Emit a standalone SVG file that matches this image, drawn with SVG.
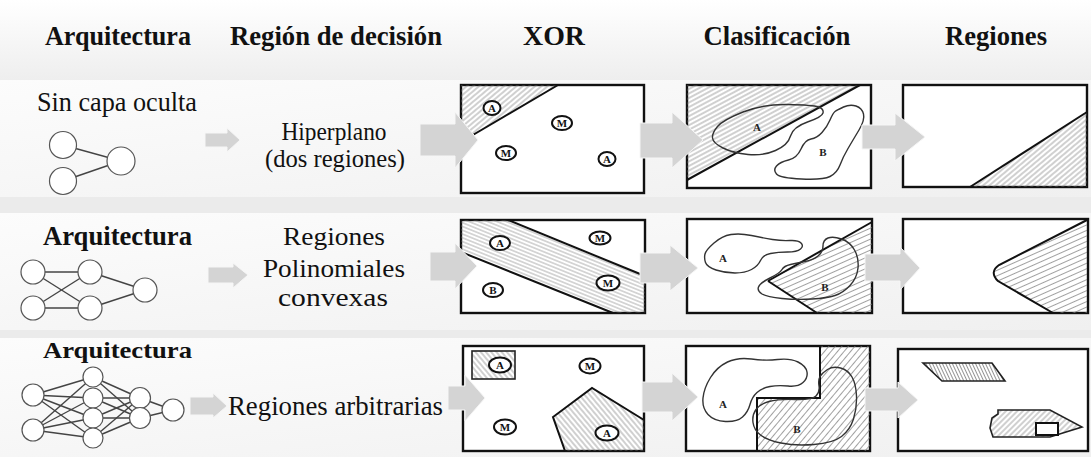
<svg xmlns="http://www.w3.org/2000/svg" width="1091" height="457" viewBox="0 0 1091 457">
<style>
text{font-family:'Liberation Serif','DejaVu Serif',serif}
.hdr{font-weight:bold;font-size:28px;fill:#111}
.lbl{font-size:26px;fill:#111}
.arch{font-weight:bold;fill:#111}
.box{fill:#fff;stroke:#111;stroke-width:2.4}
.edge{fill:none;stroke:#111;stroke-width:2}
.blob{fill:none;stroke:#333;stroke-width:1.4}
.mk{fill:#fff;stroke:#111;stroke-width:2}
.mt{font-weight:bold;font-size:11px;fill:#111;text-anchor:middle}
.bl{font-weight:bold;font-size:11px;fill:#222;text-anchor:middle}
.nn{fill:#fff;stroke:#555;stroke-width:1.2}
.nl{stroke:#444;stroke-width:1.4}
.arr{fill:#d4d4d4;stroke:#f6f6f6;stroke-width:1}
</style>
<defs>
<linearGradient id="bgH" x1="0" y1="0" x2="0" y2="1"><stop offset="0" stop-color="#ffffff"/><stop offset="1" stop-color="#eeeeee"/></linearGradient>
<linearGradient id="bgR" x1="0" y1="0" x2="1" y2="1"><stop offset="0" stop-color="#fcfcfc"/><stop offset="1" stop-color="#f0f0f0"/></linearGradient>
<pattern id="hp40" width="6" height="4" patternUnits="userSpaceOnUse" patternTransform="rotate(-40)"><line x1="0" y1="2" x2="6" y2="2" stroke="#777" stroke-width="0.7"/></pattern>
<pattern id="hp28" width="6" height="4" patternUnits="userSpaceOnUse" patternTransform="rotate(-28)"><line x1="0" y1="2" x2="6" y2="2" stroke="#777" stroke-width="0.7"/></pattern>
<pattern id="hp22" width="6" height="5" patternUnits="userSpaceOnUse" patternTransform="rotate(-24)"><line x1="0" y1="2.5" x2="6" y2="2.5" stroke="#777" stroke-width="0.7"/></pattern>
<pattern id="hn22" width="6" height="3.5" patternUnits="userSpaceOnUse" patternTransform="rotate(22)"><line x1="0" y1="1.75" x2="6" y2="1.75" stroke="#777" stroke-width="0.6"/></pattern>
<pattern id="hn50" width="6" height="4" patternUnits="userSpaceOnUse" patternTransform="rotate(50)"><line x1="0" y1="2" x2="6" y2="2" stroke="#777" stroke-width="0.7"/></pattern>
<pattern id="hp50" width="6" height="5" patternUnits="userSpaceOnUse" patternTransform="rotate(-50)"><line x1="0" y1="2.5" x2="6" y2="2.5" stroke="#777" stroke-width="0.7"/></pattern>
<pattern id="hn65" width="6" height="3" patternUnits="userSpaceOnUse" patternTransform="rotate(65)"><line x1="0" y1="1.5" x2="6" y2="1.5" stroke="#666" stroke-width="0.7"/></pattern>
<pattern id="hp45" width="6" height="4" patternUnits="userSpaceOnUse" patternTransform="rotate(-45)"><line x1="0" y1="2" x2="6" y2="2" stroke="#777" stroke-width="0.7"/></pattern>
</defs>

<rect width="1091" height="457" fill="#ebebeb"/>
<rect x="0" y="0" width="1091" height="80" fill="url(#bgH)"/>
<rect x="0" y="80" width="1091" height="117" fill="url(#bgR)"/>
<rect x="0" y="213" width="1091" height="117" fill="url(#bgR)"/>
<rect x="0" y="338" width="1091" height="119" fill="url(#bgR)"/>

<g id="headers">
<text class="hdr" x="118" y="45" text-anchor="middle" textLength="146" lengthAdjust="spacingAndGlyphs">Arquitectura</text>
<text class="hdr" x="336" y="45" text-anchor="middle" textLength="212" lengthAdjust="spacingAndGlyphs">Región de decisión</text>
<text class="hdr" x="554" y="45" text-anchor="middle" textLength="62" lengthAdjust="spacingAndGlyphs">XOR</text>
<text class="hdr" x="777" y="45" text-anchor="middle" textLength="147" lengthAdjust="spacingAndGlyphs">Clasificación</text>
<text class="hdr" x="996" y="45" text-anchor="middle" textLength="102" lengthAdjust="spacingAndGlyphs">Regiones</text>
</g>

<!-- Row 1 -->
<g id="row1-arch">
<text class="lbl" x="37" y="111" style="font-size:27px" textLength="160" lengthAdjust="spacingAndGlyphs">Sin capa oculta</text>
<line class="nl" x1="63" y1="145" x2="121" y2="161"/>
<line class="nl" x1="63" y1="181" x2="121" y2="161"/>
<circle class="nn" cx="63" cy="145" r="13.5"/>
<circle class="nn" cx="63" cy="181" r="13.5"/>
<circle class="nn" cx="121" cy="161" r="14"/>
</g>
<g id="row1-region">
<text class="lbl" x="334" y="140" style="font-size:25px" text-anchor="middle" textLength="105" lengthAdjust="spacingAndGlyphs">Hiperplano</text>
<text class="lbl" x="335" y="167" style="font-size:25px" text-anchor="middle" textLength="140" lengthAdjust="spacingAndGlyphs">(dos regiones)</text>
</g>
<g id="row1-xor">
<rect class="box" x="461" y="85" width="183" height="108"/>
<polygon points="461,85 558,85 461,142" fill="url(#hp40)"/>
<line class="edge" x1="461" y1="142" x2="558" y2="85"/>
<ellipse class="mk" cx="492" cy="108" rx="8.5" ry="7"/><text class="mt" x="492" y="112">A</text>
<ellipse class="mk" cx="562" cy="123" rx="10" ry="7"/><text class="mt" x="562" y="127">M</text>
<ellipse class="mk" cx="506" cy="153" rx="10" ry="7"/><text class="mt" x="506" y="157">M</text>
<ellipse class="mk" cx="607" cy="159" rx="8.5" ry="7"/><text class="mt" x="607" y="163">A</text>
</g>
<g id="row1-clas">
<rect class="box" x="687" y="85" width="184" height="103"/>
<polygon points="687,85 860,85 687,180" fill="url(#hp28)"/>
<line class="edge" x1="687" y1="180" x2="860" y2="85"/>
<path class="blob" d="M 717.5 126.5 Q 723 120 743 112 Q 763 104 788 104.5 Q 813 105 818.5 107 Q 824 109 823 113 Q 822 117 807.5 122 Q 793 127 790.5 136 Q 788 145 775.5 150.5 Q 763 156 748 154.5 Q 733 153 723 148 Q 713 143 712.5 138 Q 712 133 717.5 126.5 Z"/>
<path class="blob" d="M 835 111.5 Q 837 110 843.5 107 Q 850 104 856 106 Q 862 108 863.5 114 Q 865 120 859 130 Q 853 140 848 148.5 Q 843 157 840 165 Q 837 173 830 176.5 Q 823 180 801.5 179 Q 780 178 776.5 174 Q 773 170 776.5 166 Q 780 162 788.5 160 Q 797 158 801 149 Q 805 140 811 139 Q 817 138 822 132.5 Q 827 127 830 120 Q 833 113 835 111.5 Z"/>
<text class="bl" x="757" y="131">A</text>
<text class="bl" x="823" y="156">B</text>
</g>
<g id="row1-reg">
<rect class="box" x="903" y="85" width="184" height="102"/>
<polygon points="1087,112 1087,187 970,187" fill="url(#hp40)"/>
<line class="edge" x1="970" y1="187" x2="1087" y2="112"/>
</g>

<!-- Row 2 -->
<g id="row2-arch">
<text class="arch" x="43" y="245" style="font-size:27px" textLength="149" lengthAdjust="spacingAndGlyphs">Arquitectura</text>
<line class="nl" x1="33" y1="272" x2="90" y2="272"/>
<line class="nl" x1="33" y1="272" x2="90" y2="308"/>
<line class="nl" x1="33" y1="308" x2="90" y2="272"/>
<line class="nl" x1="33" y1="308" x2="90" y2="308"/>
<line class="nl" x1="90" y1="272" x2="145" y2="290"/>
<line class="nl" x1="90" y1="308" x2="145" y2="290"/>
<circle class="nn" cx="33" cy="272" r="12"/>
<circle class="nn" cx="33" cy="308" r="12"/>
<circle class="nn" cx="90" cy="272" r="12"/>
<circle class="nn" cx="90" cy="308" r="12"/>
<circle class="nn" cx="145" cy="290" r="12"/>
</g>
<g id="row2-region">
<text class="lbl" x="334" y="245" text-anchor="middle" textLength="102" lengthAdjust="spacingAndGlyphs">Regiones</text>
<text class="lbl" x="334" y="277" text-anchor="middle" textLength="142" lengthAdjust="spacingAndGlyphs">Polinomiales</text>
<text class="lbl" x="333" y="306" text-anchor="middle" textLength="110" lengthAdjust="spacingAndGlyphs">convexas</text>
</g>
<g id="row2-xor">
<rect class="box" x="461" y="220" width="184" height="93"/>
<polygon points="461,220 508,220 645,276 645,313 613,313 461,252" fill="url(#hn22)"/>
<line class="edge" x1="508" y1="220" x2="645" y2="276"/>
<line class="edge" x1="461" y1="252" x2="613" y2="313"/>
<ellipse class="mk" cx="500" cy="243" rx="10" ry="7"/><text class="mt" x="500" y="247">A</text>
<ellipse class="mk" cx="600" cy="238" rx="10.5" ry="6.5"/><text class="mt" x="600" y="242">M</text>
<ellipse class="mk" cx="608" cy="283" rx="11.5" ry="7.5"/><text class="mt" x="608" y="287">M</text>
<ellipse class="mk" cx="493" cy="290" rx="10" ry="7"/><text class="mt" x="493" y="294">B</text>
</g>
<g id="row2-clas">
<rect class="box" x="687" y="219" width="185" height="94"/>
<polygon points="768,281 872,222 872,313 817,313" fill="url(#hp22)"/>
<line class="edge" x1="768" y1="281" x2="872" y2="222"/>
<line class="edge" x1="768" y1="281" x2="817" y2="313"/>
<path class="blob" d="M 705 254 Q 706 250 714 243 Q 722 236 731 234.5 Q 740 233 751.5 235.5 Q 763 238 772.5 239.5 Q 782 241 790 240.5 Q 798 240 801 243 Q 804 246 800.5 249 Q 797 252 787.5 252 Q 778 252 770.5 253.5 Q 763 255 760.5 260.5 Q 758 266 751.5 269.5 Q 745 273 735 273 Q 725 273 716 270 Q 707 267 705.5 262.5 Q 704 258 705 254 Z"/>
<path class="blob" d="M 758.5 287 Q 760 283 770 278 Q 780 273 782 269.5 Q 784 266 790.5 264.5 Q 797 263 805 261.5 Q 813 260 818 256 Q 823 252 823 246 Q 823 240 828 238 Q 833 236 841.5 239 Q 850 242 854.5 250 Q 859 258 858 268 Q 857 278 850 285.5 Q 843 293 835 295.5 Q 827 298 812 299 Q 797 300 782 298.5 Q 767 297 762 294 Q 757 291 758.5 287 Z"/>
<text class="bl" x="723" y="262">A</text>
<text class="bl" x="825" y="291">B</text>
</g>
<g id="row2-reg">
<rect class="box" x="903" y="219" width="185" height="94"/>
<path d="M 1087 220 L 999 265 Q 989 272 998 281 L 1053 313 L 1087 313 Z" fill="url(#hp22)"/>
<path class="edge" d="M 1087 220 L 999 265 Q 989 272 998 281 L 1053 313"/>
</g>

<!-- Row 3 -->
<g id="row3-arch">
<text class="arch" x="43" y="358" style="font-size:24px" textLength="149" lengthAdjust="spacingAndGlyphs">Arquitectura</text>
<g class="nl">
<line x1="33" y1="395" x2="93" y2="377"/><line x1="33" y1="395" x2="93" y2="398"/><line x1="33" y1="395" x2="93" y2="418"/><line x1="33" y1="395" x2="93" y2="438"/>
<line x1="33" y1="430" x2="93" y2="377"/><line x1="33" y1="430" x2="93" y2="398"/><line x1="33" y1="430" x2="93" y2="418"/><line x1="33" y1="430" x2="93" y2="438"/>
<line x1="93" y1="377" x2="140" y2="398"/><line x1="93" y1="377" x2="140" y2="418"/>
<line x1="93" y1="398" x2="140" y2="398"/><line x1="93" y1="398" x2="140" y2="418"/>
<line x1="93" y1="418" x2="140" y2="398"/><line x1="93" y1="418" x2="140" y2="418"/>
<line x1="93" y1="438" x2="140" y2="398"/><line x1="93" y1="438" x2="140" y2="418"/>
<line x1="140" y1="398" x2="173" y2="410"/><line x1="140" y1="418" x2="173" y2="410"/>
</g>
<circle class="nn" cx="33" cy="395" r="11"/>
<circle class="nn" cx="33" cy="430" r="11"/>
<circle class="nn" cx="93" cy="377" r="10"/>
<circle class="nn" cx="93" cy="398" r="10"/>
<circle class="nn" cx="93" cy="418" r="10"/>
<circle class="nn" cx="93" cy="438" r="10"/>
<circle class="nn" cx="140" cy="398" r="10.5"/>
<circle class="nn" cx="140" cy="418" r="10.5"/>
<circle class="nn" cx="173" cy="410" r="11"/>
</g>
<g id="row3-region">
<text class="lbl" x="228" y="415" style="font-size:27px" textLength="215" lengthAdjust="spacingAndGlyphs">Regiones arbitrarias</text>
</g>
<g id="row3-xor">
<rect class="box" x="463" y="346" width="181" height="105"/>
<rect x="472" y="351" width="43" height="28" fill="url(#hn50)" stroke="#222" stroke-width="1.6"/>
<ellipse class="mk" cx="500" cy="365" rx="11" ry="7.5"/><text class="mt" x="500" y="369">A</text>
<ellipse class="mk" cx="590" cy="366" rx="10.5" ry="7.5"/><text class="mt" x="590" y="370">M</text>
<ellipse class="mk" cx="505" cy="427" rx="11" ry="7.5"/><text class="mt" x="505" y="431">M</text>
<polygon points="553,417 592,388 644,420 644,451 565,451" fill="url(#hn50)"/>
<polyline class="edge" points="644,420 592,388 553,417 565,451"/>
<ellipse class="mk" cx="607" cy="433" rx="11.5" ry="7.5"/><text class="mt" x="607" y="437">A</text>
</g>
<g id="row3-clas">
<rect class="box" x="686" y="346" width="184" height="105"/>
<polygon points="820,346 870,346 870,451 757,451 757,398 820,398" fill="url(#hp50)"/>
<polyline class="edge" points="820,346 820,398 757,398 757,451"/>
<path class="blob" d="M 710.5 377.5 Q 717 367 727.5 362 Q 738 357 751.5 359 Q 765 361 777.5 359.5 Q 790 358 798 362 Q 806 366 807 372 Q 808 378 803 382.5 Q 798 387 788 386 Q 778 385 770 386.5 Q 762 388 757 392.5 Q 752 397 750 404.5 Q 748 412 742.5 417 Q 737 422 725.5 421.5 Q 714 421 708 414.5 Q 702 408 703 398 Q 704 388 710.5 377.5 Z"/>
<path class="blob" d="M 820 376.5 Q 822 373 827.5 369.5 Q 833 366 840.5 368 Q 848 370 852 377 Q 856 384 856.5 396 Q 857 408 853.5 419 Q 850 430 841.5 436.5 Q 833 443 814 444.5 Q 795 446 781 443 Q 767 440 760.5 435 Q 754 430 753 422.5 Q 752 415 756 409.5 Q 760 404 769 401.5 Q 778 399 795 399.5 Q 812 400 816 396 Q 820 392 819 386 Q 818 380 820 376.5 Z"/>
<text class="bl" x="723" y="408">A</text>
<text class="bl" x="797" y="433">B</text>
</g>
<g id="row3-reg">
<rect class="box" x="898" y="349" width="190" height="102"/>
<polygon points="923,363 992,363 1005,381 942,381" fill="url(#hn65)" stroke="#222" stroke-width="1.6"/>
<polygon points="998,410 1050,410 1082,427 1050,437 993,437 990,428 992,418 998,414" fill="url(#hp45)" stroke="#222" stroke-width="1.6"/>
<rect x="1036" y="423" width="22" height="12" fill="#fff" stroke="#111" stroke-width="2"/>
</g>

<g id="connectors">
<polygon class="arr" points="205,133 227,133 227,128 240,140 227,152 227,147 205,147"/>
<polygon class="arr" points="420,124 455,124 455,112 478,140 455,168 455,156 420,156"/>
<polygon class="arr" points="640,123 672,123 672,112 703,140 672,168 672,158 640,158"/>
<polygon class="arr" points="862,125 895,125 895,113 925,137 895,161 895,149 862,149"/>
<polygon class="arr" points="208,267 233,267 233,263 248,275 233,288 233,283 208,283"/>
<polygon class="arr" points="430,252 455,252 455,243 477,266 455,289 455,281 430,281"/>
<polygon class="arr" points="640,253 670,253 670,245 698,268 670,291 670,283 640,283"/>
<polygon class="arr" points="865,254 900,254 900,247 920,268 900,290 900,281 865,281"/>
<polygon class="arr" points="190,397 213,397 213,393 227,406 213,418 213,415 190,415"/>
<polygon class="arr" points="448,386 465,386 465,375 485,398 465,421 465,410 448,410"/>
<polygon class="arr" points="642,382 672,382 672,373 698,397 672,421 672,412 642,412"/>
<polygon class="arr" points="865,388 898,388 898,382 918,400 898,418 898,411 865,411"/>
</g>
</svg>
